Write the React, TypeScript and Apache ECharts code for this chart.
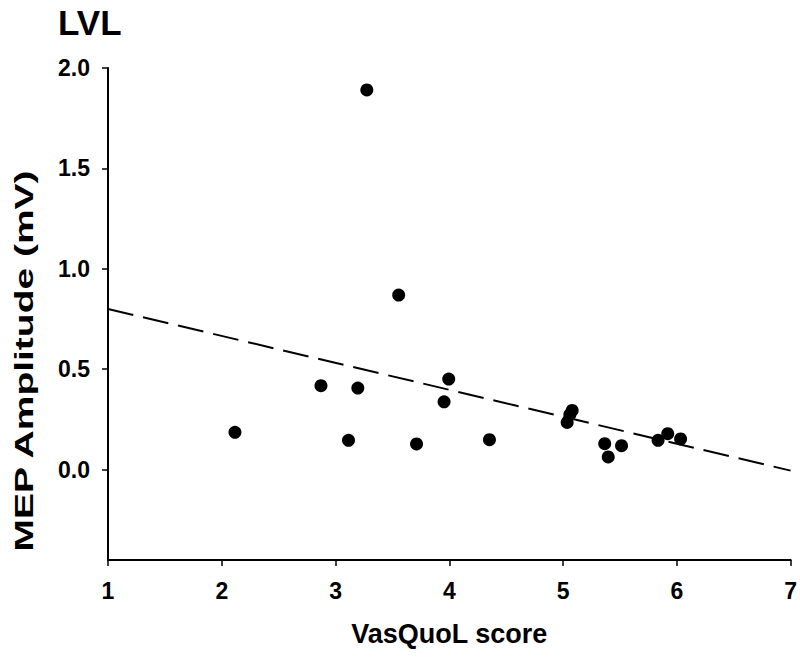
import React, { useEffect, useRef } from "react";
import * as echarts from "echarts";

const scoreX = [2.116, 2.872, 3.114, 3.196, 3.275, 3.555, 3.712, 3.954, 3.995, 4.353, 5.036, 5.06, 5.08, 5.366, 5.397, 5.514, 5.835, 5.92, 6.033];
const ampY = [0.186, 0.418, 0.146, 0.406, 1.891, 0.869, 0.128, 0.338, 0.451, 0.149, 0.235, 0.274, 0.295, 0.129, 0.063, 0.119, 0.146, 0.179, 0.153];
const trendX = [1, 7];
const trendY = [0.8, -0.005];
const xTicks = [1, 2, 3, 4, 5, 6, 7];
const yTicks = [0, 0.5, 1.0, 1.5, 2.0];
const chartTitle = "LVL";
const xName = "VasQuoL score";
const yName = "MEP Amplitude (mV)";

const FONT = "'Liberation Sans', Arial, sans-serif";

export default function App() {
  const ref = useRef<HTMLDivElement>(null);
  useEffect(() => {
    if (!ref.current) return;
    const chart = echarts.init(ref.current, null, { renderer: "svg" });
    chart.setOption({
      animation: false,
      backgroundColor: "#ffffff",
      grid: { left: 108, top: 68, right: 7, bottom: 97, containLabel: false },
      xAxis: {
        type: "value",
        min: 1,
        max: 7,
        interval: 1,
        name: xName,
        nameLocation: "middle",
        nameGap: 60,
        nameTextStyle: { fontFamily: FONT, fontWeight: "bold", fontSize: 27, color: "#000" },
        axisLine: { show: true, onZero: false, lineStyle: { color: "#000", width: 2 } },
        axisTick: { show: true, length: 6, lineStyle: { color: "#000", width: 1.5 }, customValues: xTicks },
        axisLabel: { fontFamily: FONT, fontWeight: "bold", fontSize: 23, color: "#000", margin: 19, customValues: xTicks },
        splitLine: { show: false },
      },
      yAxis: {
        type: "value",
        min: -0.45,
        max: 2.0,
        axisLine: { show: true, onZero: false, lineStyle: { color: "#000", width: 2 } },
        axisTick: { show: true, length: 6, lineStyle: { color: "#000", width: 1.5 }, customValues: yTicks },
        axisLabel: {
          fontFamily: FONT,
          fontWeight: "bold",
          fontSize: 23,
          color: "#000",
          margin: 18,
          customValues: yTicks,
          formatter: (v: number) => v.toFixed(1),
        },
        splitLine: { show: false },
      },
      graphic: [
        {
          type: "text",
          left: 58,
          top: 5,
          style: { text: chartTitle, font: `bold 35px ${FONT}`, fill: "#000" },
        },
        {
          type: "text",
          x: 24,
          y: 361,
          rotation: Math.PI / 2,
          scaleX: 1.5,
          style: {
            text: yName,
            font: `bold 26px ${FONT}`,
            fill: "#000",
            align: "center",
            verticalAlign: "middle",
          },
        },
      ],
      series: [
        {
          type: "line",
          data: trendX.map((x, i) => [x, trendY[i]]),
          symbol: "none",
          lineStyle: { color: "#000", width: 2, type: [26, 10] },
          z: 1,
        },
        {
          type: "scatter",
          data: scoreX.map((x, i) => [x, ampY[i]]),
          symbol: "circle",
          symbolSize: 13,
          itemStyle: { color: "#000", opacity: 1 },
          z: 2,
        },
      ],
    });
    return () => chart.dispose();
  }, []);
  return <div ref={ref} style={{ position: "fixed", left: 0, top: 0, width: 800, height: 657 }} />;
}
